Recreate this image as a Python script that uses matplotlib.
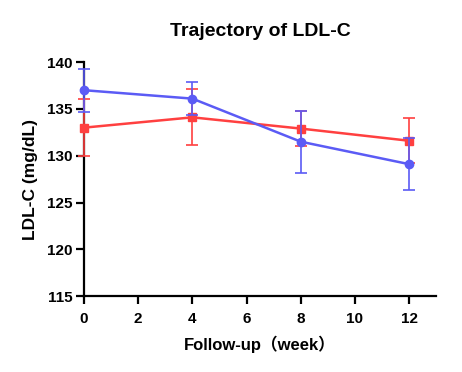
import matplotlib
matplotlib.use("Agg")
import matplotlib.pyplot as plt

plt.rcParams['font.family'] = ['Liberation Sans', 'Noto Sans CJK SC', 'DejaVu Sans']
plt.rcParams['font.weight'] = 'bold'

weeks = [0, 4, 8, 12]
red_mean = [133.0, 134.1, 132.9, 131.6]
red_err = [3.05, 3.0, 1.9, 2.4]
blue_mean = [137.0, 136.1, 131.5, 129.1]
blue_err = [2.3, 1.8, 3.3, 2.8]

red = "#FF4040"
blue = "#5B5BF5"

fig = plt.figure(figsize=(4.62, 3.72), dpi=100)
ax = fig.add_axes([0.182, 0.204, 0.762, 0.629])

ax.errorbar(weeks, red_mean, yerr=red_err, color=red, marker='s', markersize=6,
            linewidth=1.8, elinewidth=1.2, capsize=4, capthick=1.2, clip_on=False, zorder=3)
ax.errorbar(weeks, blue_mean, yerr=blue_err, color=blue, marker='o', markersize=6,
            linewidth=1.8, elinewidth=1.2, capsize=4, capthick=1.2, clip_on=False, zorder=4)

ax.set_xlim(0, 13)
ax.set_ylim(115, 140)
ax.set_xticks([0, 2, 4, 6, 8, 10, 12])
ax.set_yticks([115, 120, 125, 130, 135, 140])

for s in ['top', 'right']:
    ax.spines[s].set_visible(False)
for s in ['left', 'bottom']:
    ax.spines[s].set_linewidth(1.6)
ax.tick_params(width=1.6, length=5.5, labelsize=11)
ax.tick_params(axis='x', pad=6)
ax.tick_params(axis='y', pad=3)
for lab in ax.get_xticklabels() + ax.get_yticklabels():
    lab.set_fontweight('bold')

ax.set_title("Trajectory of LDL-C", fontsize=14, fontweight='bold', pad=19)
ax.set_xlabel("Follow-up（week）", fontsize=12, fontweight='bold', labelpad=7)
ax.set_ylabel("LDL-C (mg/dL)", fontsize=12.5, fontweight='bold', labelpad=6)

fig.savefig("out.png", dpi=100)
